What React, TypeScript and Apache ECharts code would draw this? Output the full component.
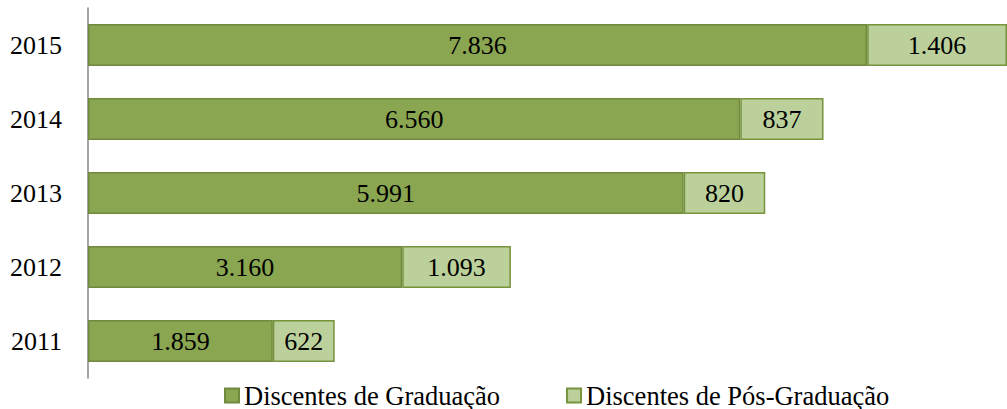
import React, { useEffect, useRef } from "react";
import * as echarts from "echarts";

const years = ["2011", "2012", "2013", "2014", "2015"];
const graduacao = [1859, 3160, 5991, 6560, 7836];
const posGraduacao = [622, 1093, 820, 837, 1406];
const seriesNames = ["Discentes de Graduação", "Discentes de Pós-Graduação"];

const fmt = (v: number) => v.toString().replace(/\B(?=(\d{3})+(?!\d))/g, ".");

export default function App() {
  const ref = useRef<HTMLDivElement>(null);
  useEffect(() => {
    const chart = echarts.init(ref.current!, null, { renderer: "svg" });
    const font = "Liberation Serif";
    chart.setOption({
      animation: false,
      textStyle: { fontFamily: font },
      grid: { left: 88, right: 0, top: 8, bottom: 31 },
      legend: {
        top: 377,
        left: 219,
        itemWidth: 14,
        itemHeight: 14,
        itemGap: 66,
        icon: "rect",
        textStyle: { fontFamily: font, fontSize: 26.5, color: "#000" },
        data: seriesNames,
      },
      xAxis: {
        type: "value",
        min: 0,
        max: 9242,
        show: false,
      },
      yAxis: {
        type: "category",
        data: years,
        axisLine: { show: true, lineStyle: { color: "#868686", width: 1.5 } },
        axisTick: { show: false },
        axisLabel: { fontFamily: font, fontSize: 26, color: "#000", margin: 26 },
      },
      series: [
        {
          name: seriesNames[0],
          type: "bar",
          stack: "total",
          barWidth: 42,
          data: graduacao,
          itemStyle: { color: "#8aa650", borderColor: "#71893f", borderWidth: 1.5 },
          label: {
            show: true,
            position: "inside",
            color: "#000",
            fontFamily: font,
            fontSize: 26,
            formatter: (p: any) => fmt(p.value),
          },
        },
        {
          name: seriesNames[1],
          type: "bar",
          stack: "total",
          barWidth: 42,
          data: posGraduacao,
          itemStyle: { color: "#bbd09a", borderColor: "#77933c", borderWidth: 1.5 },
          label: {
            show: true,
            position: "inside",
            color: "#000",
            fontFamily: font,
            fontSize: 26,
            formatter: (p: any) => fmt(p.value),
          },
        },
      ],
    });
    return () => chart.dispose();
  }, []);
  return <div ref={ref} style={{ width: 1007, height: 409, position: "absolute", left: 0, top: 0 }} />;
}
